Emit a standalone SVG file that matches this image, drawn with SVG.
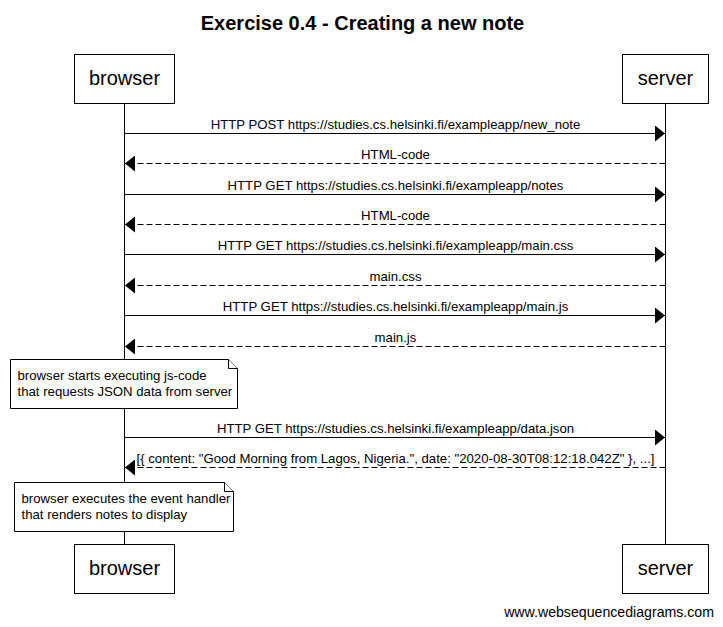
<svg xmlns="http://www.w3.org/2000/svg" width="723" height="627" viewBox="0 0 723 627">
  <defs>
    <marker id="ah" markerWidth="10" markerHeight="16" refX="10" refY="8" orient="auto" markerUnits="userSpaceOnUse">
      <path d="M0,0 L10,8 L0,16 Z" fill="#000"/>
    </marker>
  </defs>
  <style>
    text { font-family: "Liberation Sans", Arial, sans-serif; fill: #000; }
    .title { font-size: 20px; font-weight: bold; text-anchor: middle; }
    .actor rect { fill: #fff; stroke: #000; stroke-width: 1; }
    .actor text { font-size: 20px; text-anchor: middle; }
    .life { stroke: #000; stroke-width: 1; }
    .msg { stroke: #000; stroke-width: 1; fill: none; marker-end: url(#ah); }
    .ret { stroke-dasharray: 6,3; }
    .lbl { font-size: 13.2px; text-anchor: middle; }
    .note path { fill: #fff; stroke: #000; stroke-width: 1; }
    .note text { font-size: 13.2px; }
    .wm { font-size: 14.15px; text-anchor: end; }
  </style>
  <rect width="723" height="627" fill="#fff"/>
  <text class="title" x="362.5" y="29.5">Exercise 0.4 - Creating a new note</text>

  <g id="lifelines">
    <line class="life" x1="124.5" y1="103" x2="124.5" y2="544"/>
    <line class="life" x1="665.5" y1="103" x2="665.5" y2="544"/>
  </g>

  <g id="browser-top" class="actor">
    <rect x="74.5" y="54.5" width="100" height="49"/>
    <text x="124.5" y="85">browser</text>
  </g>
  <g id="server-top" class="actor">
    <rect x="622.5" y="54.5" width="86" height="49"/>
    <text x="665.5" y="85">server</text>
  </g>
  <g id="browser-bottom" class="actor">
    <rect x="74.5" y="544.5" width="100" height="49"/>
    <text x="124.5" y="575">browser</text>
  </g>
  <g id="server-bottom" class="actor">
    <rect x="622.5" y="544.5" width="86" height="49"/>
    <text x="665.5" y="575">server</text>
  </g>

  <g id="connectors">
    <line class="msg" x1="124.5" y1="133.5" x2="665" y2="133.5"/>
    <text class="lbl" x="395.5" y="128.5">HTTP POST https://studies.cs.helsinki.fi/exampleapp/new_note</text>
    <line class="msg ret" x1="665.5" y1="163.5" x2="125" y2="163.5"/>
    <text class="lbl" x="395.5" y="158.5">HTML-code</text>
    <line class="msg" x1="124.5" y1="194.5" x2="665" y2="194.5"/>
    <text class="lbl" x="395.5" y="189.5">HTTP GET https://studies.cs.helsinki.fi/exampleapp/notes</text>
    <line class="msg ret" x1="665.5" y1="224.5" x2="125" y2="224.5"/>
    <text class="lbl" x="395.5" y="219.5">HTML-code</text>
    <line class="msg" x1="124.5" y1="254.5" x2="665" y2="254.5"/>
    <text class="lbl" x="395.5" y="249.5">HTTP GET https://studies.cs.helsinki.fi/exampleapp/main.css</text>
    <line class="msg ret" x1="665.5" y1="285.5" x2="125" y2="285.5"/>
    <text class="lbl" x="395.5" y="280.5">main.css</text>
    <line class="msg" x1="124.5" y1="315.5" x2="665" y2="315.5"/>
    <text class="lbl" x="395.5" y="310.5">HTTP GET https://studies.cs.helsinki.fi/exampleapp/main.js</text>
    <line class="msg ret" x1="665.5" y1="346.5" x2="125" y2="346.5"/>
    <text class="lbl" x="395.5" y="341.5">main.js</text>
    <line class="msg" x1="124.5" y1="437.5" x2="665" y2="437.5"/>
    <text class="lbl" x="395.5" y="432.5">HTTP GET https://studies.cs.helsinki.fi/exampleapp/data.json</text>
    <line class="msg ret" x1="665.5" y1="467.5" x2="125" y2="467.5"/>
    <text class="lbl" x="395.5" y="462.5">[{ content: "Good Morning from Lagos, Nigeria.", date: "2020-08-30T08:12:18.042Z" }, ...]</text>
  </g>

  <g id="note1" class="note">
    <path d="M10.5,359.5 H228.5 L237.5,368.5 V408.5 H10.5 Z"/>
    <path d="M228.5,359.5 V368.5 H237.5"/>
    <text x="17.5" y="379.5">browser starts executing js-code</text>
    <text x="17.5" y="395.5">that requests JSON data from server</text>
  </g>
  <g id="note2" class="note">
    <path d="M14.5,482.5 H224.5 L233.5,491.5 V531.5 H14.5 Z"/>
    <path d="M224.5,482.5 V491.5 H233.5"/>
    <text x="21.5" y="502.5">browser executes the event handler</text>
    <text x="21.5" y="518.5">that renders notes to display</text>
  </g>

  <text class="wm" x="714" y="617">www.websequencediagrams.com</text>
</svg>
